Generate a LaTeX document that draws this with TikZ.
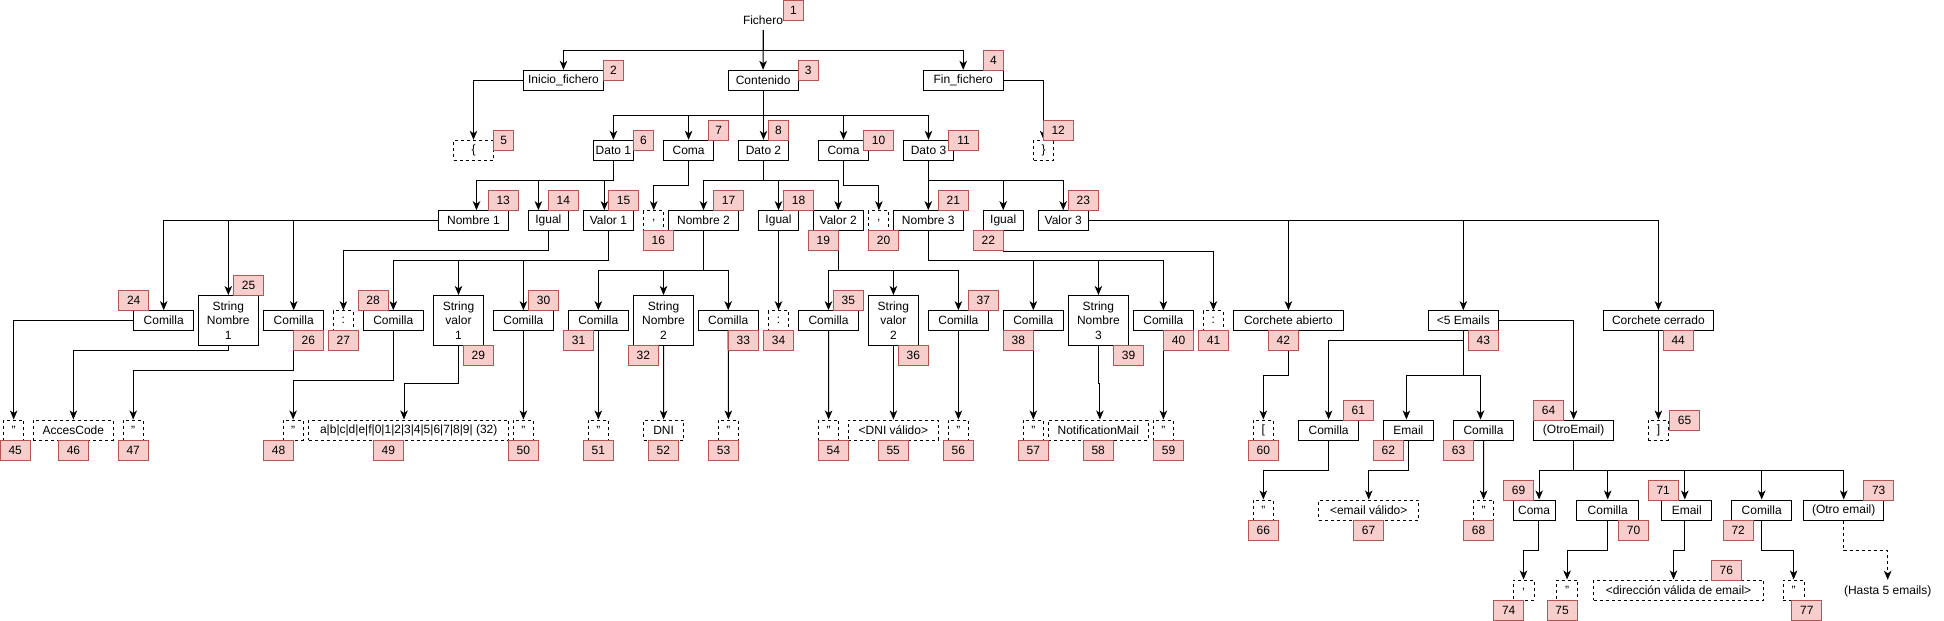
\documentclass[tikz,border=0pt]{standalone}
\usepackage{fontspec}
\setmainfont{Liberation Sans}
\usetikzlibrary{arrows.meta}
\definecolor{labpink}{HTML}{F8CECC}
\definecolor{labred}{HTML}{B85450}
\newcommand{\fsz}{\fontsize{12}{14.3}\selectfont}
\begin{document}
\begin{tikzpicture}[x=1pt,y=-1pt,
  base/.style={draw=black, line width=1pt, inner sep=0pt, minimum height=20, font=\fsz, align=center, fill=white},
  box/.style={base},
  tallbox/.style={base, minimum height=50},
  dbox/.style={base, dash pattern=on 3pt off 3pt},
  lab/.style={draw=labred, fill=labpink, line width=1pt, inner sep=0pt, minimum height=20, font=\fsz},
  arr/.style={draw=black, line width=1pt, -{Stealth[length=9pt,width=7.5pt,inset=2.5pt]}},
  darr/.style={arr, dash pattern=on 3pt off 3pt}]
\useasboundingbox (0,0) rectangle (1944,621);
\fill[white] (0,0) rectangle (1944,621);

% level 0/1
\node[font=\fsz, inner sep=0pt, minimum height=19, minimum width=40] (fichero) at (763,20.5) {Fichero};
\node[box,minimum width=80] (inicio) at (563.5,80.3) {Inicio\_fichero};
\node[box,minimum width=70] (contenido) at (763.1,80.3) {Contenido};
\node[box,minimum width=80] (fin) at (963.2,80.3) {Fin\_fichero};

% level 2
\node[dbox,minimum width=40] (b5) at (473.5,150.3) {\{};
\node[box,minimum width=40] (dato1) at (613.4,150.3) {Dato 1};
\node[box,minimum width=50] (coma7) at (688.6,150.3) {Coma};
\node[box,minimum width=50] (dato2) at (763.5,150.3) {Dato 2};
\node[box,minimum width=50] (coma10) at (843.5,150.3) {Coma};
\node[box,minimum width=50] (dato3) at (928.5,150.3) {Dato 3};
\node[dbox,minimum width=20] (b12) at (1043.6,150.3) {\}};

% level 3
\node[box,minimum width=70] (nombre1) at (473.5,220.7) {Nombre 1};
\node[box,minimum width=40] (igual14) at (548.4,220.7) {Igual};
\node[box,minimum width=50] (valor1) at (608.4,220.7) {Valor 1};
\node[dbox,minimum width=20] (b16) at (653.7,220.7) {,};
\node[box,minimum width=70] (nombre2) at (703.5,220.7) {Nombre 2};
\node[box,minimum width=40] (igual18) at (778.5,220.7) {Igual};
\node[box,minimum width=50] (valor2) at (838.2,220.7) {Valor 2};
\node[dbox,minimum width=20] (b20) at (878.9,220.7) {,};
\node[box,minimum width=70] (nombre3) at (928.3,220.7) {Nombre 3};
\node[box,minimum width=40] (igual22) at (1003.2,220.7) {Igual};
\node[box,minimum width=50] (valor3) at (1063.2,220.7) {Valor 3};

% level 4
\node[box,minimum width=60] (comilla24) at (163.7,320.7) {Comilla};
\node[tallbox,minimum width=60] (str25) at (228.3,320.5) {String\\Nombre\\1};
\node[box,minimum width=60] (comilla26) at (293.7,320.7) {Comilla};
\node[dbox,minimum width=20] (b27) at (343.4,320.7) {:};
\node[box,minimum width=60] (comilla28) at (393.3,320.7) {Comilla};
\node[tallbox,minimum width=50] (str29) at (458.5,320.5) {String\\valor\\1};
\node[box,minimum width=60] (comilla30) at (523.4,320.7) {Comilla};
\node[box,minimum width=60] (comilla31) at (598.3,320.7) {Comilla};
\node[tallbox,minimum width=60] (str32) at (663.5,320.5) {String\\Nombre\\2};
\node[box,minimum width=60] (comilla33) at (728.2,320.7) {Comilla};
\node[dbox,minimum width=20] (b34) at (778.5,320.7) {:};
\node[box,minimum width=60] (comilla35) at (828.5,320.7) {Comilla};
\node[tallbox,minimum width=50] (str36) at (893.4,320.5) {String\\valor\\2};
\node[box,minimum width=60] (comilla37) at (958.4,320.7) {Comilla};
\node[box,minimum width=60] (comilla38) at (1033.3,320.7) {Comilla};
\node[tallbox,minimum width=60] (str39) at (1098.4,320.5) {String\\Nombre\\3};
\node[box,minimum width=60] (comilla40) at (1163.4,320.7) {Comilla};
\node[dbox,minimum width=20] (b41) at (1213.4,320.7) {:};
\node[box,minimum width=110] (corab42) at (1288.4,320.7) {Corchete abierto};
\node[box,minimum width=70] (emails43) at (1463.3,320.7) {<5 Emails};
\node[box,minimum width=110] (corce44) at (1658.4,320.7) {Corchete cerrado};

% level 5
\node[dbox,minimum width=20] (b45) at (13.7,430) {"};
\node[dbox,minimum width=80] (b46) at (73.4,430) {AccesCode};
\node[dbox,minimum width=20] (b47) at (133.2,430) {"};
\node[dbox,minimum width=20] (b48) at (293.1,430) {"};
\node[dbox,minimum width=200] (b49) at (408.7,430) {a|b|c|d|e|f|0|1|2|3|4|5|6|7|8|9| (32)};
\node[dbox,minimum width=20] (b50) at (523.4,430) {"};
\node[dbox,minimum width=20] (b51) at (598.3,430) {"};
\node[dbox,minimum width=40] (b52) at (663.6,430) {DNI};
\node[dbox,minimum width=20] (b53) at (728.4,430) {"};
\node[dbox,minimum width=20] (b54) at (828.6,430) {"};
\node[dbox,minimum width=90] (b55) at (893.4,430) {<DNI válido>};
\node[dbox,minimum width=20] (b56) at (958.4,430) {"};
\node[dbox,minimum width=20] (b57) at (1033.3,430) {"};
\node[dbox,minimum width=100] (b58) at (1098.3,430) {NotificationMail};
\node[dbox,minimum width=20] (b59) at (1163.4,430) {"};
\node[dbox,minimum width=20] (b60) at (1263.3,430) {[};
\node[box,minimum width=60] (comilla61) at (1328.6,430) {Comilla};
\node[box,minimum width=50] (email62) at (1408.4,430) {Email};
\node[box,minimum width=60] (comilla63) at (1483.5,430) {Comilla};
\node[box,minimum width=80] (otro64) at (1573.6,430) {(OtroEmail)};
\node[dbox,minimum width=20] (b65) at (1658.4,430) {]};

% level 6
\node[dbox,minimum width=20] (b66) at (1263.3,510) {"};
\node[dbox,minimum width=100] (b67) at (1368.7,510) {<email válido>};
\node[dbox,minimum width=20] (b68) at (1483.6,510) {"};
\node[box,minimum width=42] (coma69) at (1534.1,510) {Coma};
\node[box,minimum width=62] (comilla70) at (1607.7,510) {Comilla};
\node[box,minimum width=50] (email71) at (1686.8,510) {Email};
\node[box,minimum width=60] (comilla72) at (1761.7,510) {Comilla};
\node[box,minimum width=80] (otro73) at (1843.7,510) {(Otro email)};

% level 7
\node[dbox,minimum width=21] (b74) at (1523.5,590) {,};
\node[dbox,minimum width=21] (b75) at (1567.1,590) {"};
\node[dbox,minimum width=170] (b76) at (1678.5,590) {<dirección válida de email>};
\node[dbox,minimum width=21] (b77) at (1793.6,590) {"};
\node[font=\fsz, inner sep=0pt, minimum height=22] (hasta) at (1887.7,591) {(Hasta 5 emails)};

% connectors
\draw[arr] (fichero.south) -- ++(0,20.3) -| (inicio.north);
\draw[arr] (fichero.south) -- (contenido.north);
\draw[arr] (fichero.south) -- ++(0,20.3) -| (fin.north);
\draw[arr] (inicio.west) -| (b5.north);
\draw[arr] (fin.east) -| (b12.north);
\foreach \t in {dato1,coma7,dato2,coma10,dato3}
  \draw[arr] (contenido.south) -- ++(0,25) -| (\t.north);
\draw[arr] (dato1.south) -- ++(0,20) -| ([xshift=3pt]nombre1.north);
\draw[arr] (dato1.south) -- ++(0,20) -| ([xshift=-10pt]igual14.north);
\draw[arr] (dato1.south) -- ++(0,20) -| ([xshift=-4pt]valor1.north);
\draw[arr] (coma7.south) -- ++(0,24.7) -| (b16.north);
\foreach \t in {nombre2,igual18,valor2}
  \draw[arr] (dato2.south) -- ++(0,20) -| (\t.north);
\draw[arr] (coma10.south) -- ++(0,24.7) -| (b20.north);
\foreach \t in {nombre3,igual22,valor3}
  \draw[arr] (dato3.south) -- ++(0,20) -| (\t.north);
\foreach \t in {comilla24,str25,comilla26}
  \draw[arr] (nombre1.west) -| (\t.north);
\draw[arr] (igual14.south) -- ++(0,19.3) -| (b27.north);
\foreach \t in {comilla28,str29,comilla30}
  \draw[arr] (valor1.south) -- ++(0,29.6) -| (\t.north);
\foreach \t in {comilla31,str32,comilla33}
  \draw[arr] (nombre2.south) -- ++(0,39.6) -| (\t.north);
\draw[arr] (igual18.south) -- (b34.north);
\foreach \t in {comilla35,str36,comilla37}
  \draw[arr] (valor2.south) -- ++(0,39.6) -| (\t.north);
\foreach \t in {comilla38,str39,comilla40}
  \draw[arr] (nombre3.south) -- ++(0,29.6) -| (\t.north);
\draw[arr] (igual22.south) -- ++(0,20) -| (b41.north);
\foreach \t in {corab42,emails43,corce44}
  \draw[arr] (valor3.east) -| (\t.north);

\draw[arr] (comilla24.west) -| (b45.north);
\draw[arr] (str25.south) -- ++(0,4.6) -| (b46.north);
\draw[arr] (comilla26.south) -- ++(0,39.6) -| (b47.north);
\draw[arr] (comilla28.south) -- ++(0,49.6) -| (b48.north);
\draw[arr] (str29.south) -- ++(0,37) -| ([xshift=-4.7pt]b49.north);
\draw[arr] (comilla30.south) -- (b50.north);
\draw[arr] (comilla31.south) -- (b51.north);
\draw[arr] (str32.south) -- (b52.north);
\draw[arr] (comilla33.south) -- (b53.north);
\draw[arr] (comilla35.south) -- (b54.north);
\draw[arr] (str36.south) -- (b55.north);
\draw[arr] (comilla37.south) -- (b56.north);
\draw[arr] (comilla38.south) -- (b57.north);
\draw[arr] (str39.south) -- ++(0,37) -| ([xshift=1.6pt]b58.north);
\draw[arr] (comilla40.south) -- (b59.north);
\draw[arr] (corab42.south) -- ++(0,44.3) -| (b60.north);
\draw[arr] (emails43.south) -- ++(0,9.6) -| (comilla61.north);
\draw[arr] (emails43.south) -- ++(0,44.3) -| ([xshift=-2pt]email62.north);
\draw[arr] (emails43.south) -- ++(0,44.3) -| ([xshift=-3pt]comilla63.north);
\draw[arr] (emails43.east) -| (otro64.north);
\draw[arr] (corce44.south) -- (b65.north);

\draw[arr] (comilla61.south) -- ++(0,30.3) -| (b66.north);
\draw[arr] (email62.south) -- ++(0,30.3) -| (b67.north);
\draw[arr] (comilla63.south) -- (b68.north);
\draw[arr] (otro64.south) -- ++(0,30.3) -| ([xshift=5pt]coma69.north);
\draw[arr] (otro64.south) -- ++(0,30.3) -| (comilla70.north);
\draw[arr] (otro64.south) -- ++(0,30.3) -| ([xshift=-2pt]email71.north);
\draw[arr] (otro64.south) -- ++(0,30.3) -| (comilla72.north);
\draw[arr] (otro64.south) -- ++(0,30.3) -| (otro73.north);
\draw[arr] ([xshift=4pt]coma69.south) -- ++(0,30) -| (b74.north);
\draw[arr] (comilla70.south) -- ++(0,30) -| (b75.north);
\draw[arr] ([xshift=-2pt]email71.south) -- ++(0,30) -| ([xshift=-5pt]b76.north);
\draw[arr] (comilla72.south) -- ++(0,30) -| (b77.north);
\draw[darr] (otro73.south) -- ++(0,30) -| (hasta.north);

% number labels
\foreach \n/\x/\y in {1/793.4/10.3, 2/613.5/70.3, 3/808.2/70.3, 4/993.4/60.3,
  5/503.7/140.3, 6/643.4/140.3, 7/718.6/130.3, 8/778.4/130.3, 10/878.5/140.3,
  11/963.5/140.3, 12/1058.2/130.3, 13/503.2/200.3, 14/563.4/200.3, 15/623.6/200.3,
  16/658.3/240.7, 17/728.6/200.3, 18/798.5/200.3, 19/823.3/240.7, 20/883.5/240.7,
  21/953.4/200.3, 22/988.3/240.7, 23/1083.4/200.3, 24/133.7/300.3, 25/248.6/285.3,
  26/308.3/340.7, 27/343.4/340.7, 28/373.1/300.3, 29/478.4/355.7, 30/543.6/300.3,
  31/578.5/340.7, 32/643.3/355.7, 33/743.4/340.7, 34/778.5/340.7, 35/848.4/300.3,
  36/913.4/355.7, 37/983.4/300.3, 38/1018.4/340.7, 39/1128.5/355.7, 40/1178.5/340.7,
  41/1213.5/340.7, 42/1283.3/340.7, 43/1483.3/340.7, 44/1678.2/340.7,
  45/15.2/450.7, 46/73.5/450.7, 47/133.2/450.7, 48/278.5/450.7, 49/388.3/450.7,
  50/523.4/450.7, 51/598.3/450.7, 52/663.4/450.7, 53/723.6/450.7, 54/833.4/450.7,
  55/893.2/450.7, 56/958.4/450.7, 57/1033.3/450.7, 58/1098.2/450.7, 59/1168.5/450.7,
  60/1263.4/450.7, 61/1358.3/410.3, 62/1388.4/450.7, 63/1458.5/450.7, 64/1548.6/410.3,
  65/1684.5/420.3, 66/1263.4/530, 67/1368.6/530, 68/1478.6/530, 69/1518.6/490,
  70/1633.5/530, 71/1663.2/490, 72/1738.2/530, 73/1878.7/490, 74/1508.7/610,
  75/1562.1/610, 76/1726.3/570, 77/1806.9/610}
  \node[lab, minimum width={ifthenelse(\n<10,20,30)}] (l\n) at (\x,\y) {\n};
\end{tikzpicture}
\end{document}
